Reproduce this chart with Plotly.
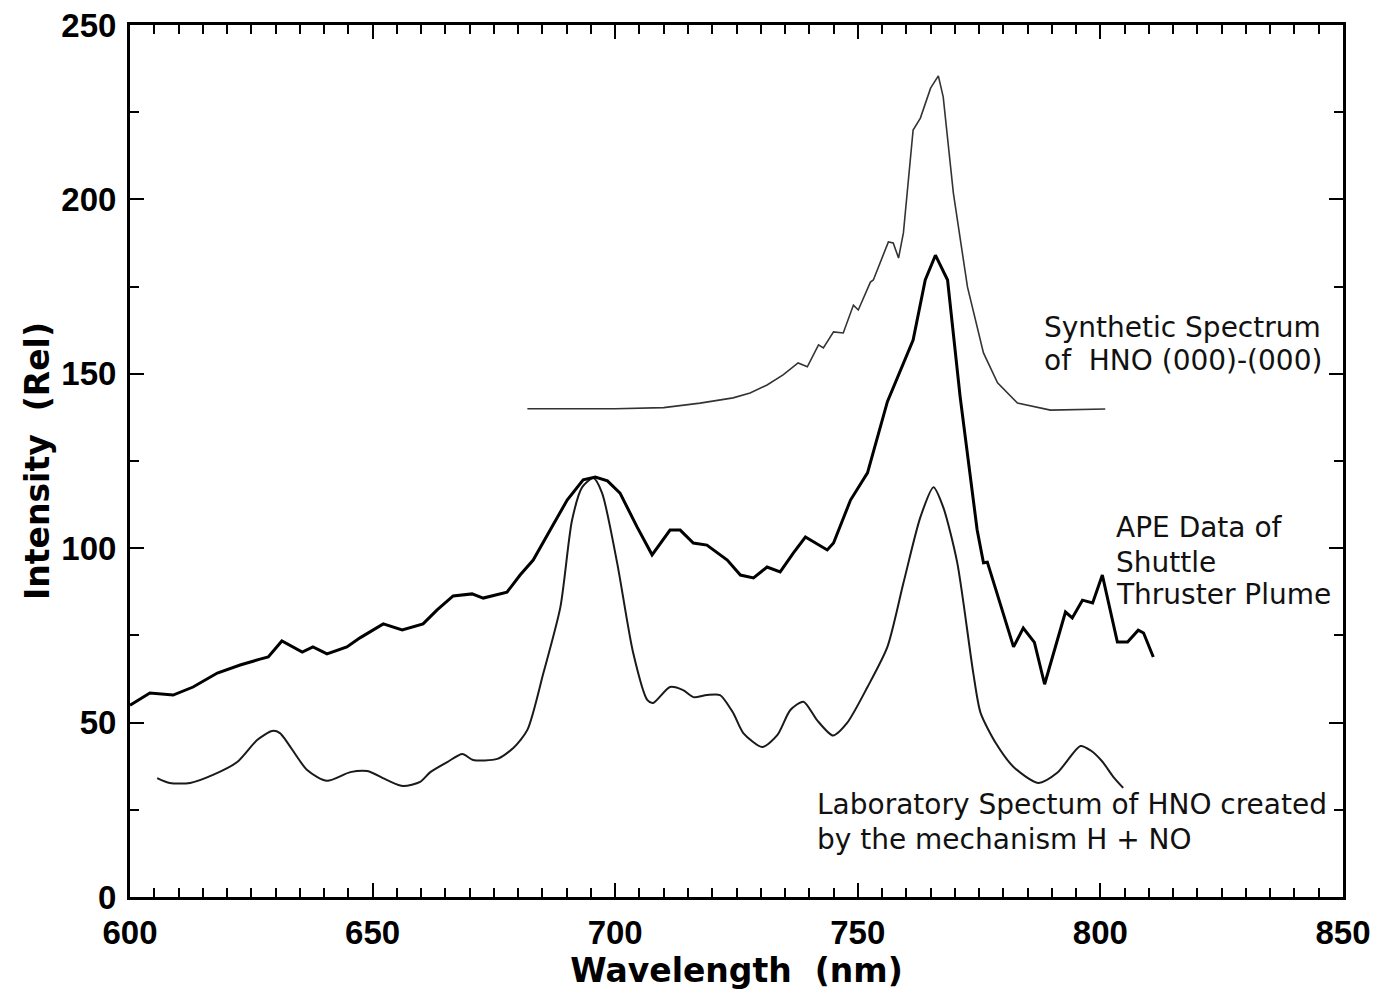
import plotly.graph_objects as go

# APE data of shuttle thruster plume (thick trace)
ape_nm = [600.0, 604.1, 608.9, 613.0, 618.0, 622.7, 626.8, 628.5, 631.3, 635.5, 637.7, 640.6,
          644.7, 647.4, 652.2, 656.1, 660.4, 663.3, 666.6, 670.5, 672.8, 677.7, 680.4, 683.1,
          686.6, 690.1, 693.4, 695.9, 698.4, 701.0, 704.5, 707.6, 711.3, 713.4, 716.1, 718.9,
          723.1, 725.8, 728.5, 731.3, 734.0, 736.7, 739.2, 743.7, 745.0, 748.5, 752.0, 756.1,
          761.4, 763.9, 766.0, 768.5, 771.1, 774.6, 775.9, 776.7, 782.1, 784.1, 786.4, 788.5,
          792.8, 794.2, 796.3, 798.4, 800.4, 803.5, 805.6, 807.8, 808.9, 810.9]
ape_val = [55.0, 58.5, 57.9, 60.2, 64.2, 66.5, 68.2, 68.8, 73.4, 70.2, 71.7, 69.7,
           71.7, 74.3, 78.3, 76.6, 78.3, 82.3, 86.3, 86.9, 85.7, 87.4, 92.3, 96.6,
           105.2, 113.8, 119.6, 120.4, 119.3, 115.8, 106.1, 98.1, 105.2, 105.2, 101.5, 100.9,
           96.6, 92.3, 91.5, 94.6, 93.2, 98.6, 103.2, 99.5, 101.5, 113.8, 121.6, 142.0,
           159.7, 176.9, 184.0, 176.9, 143.3, 105.2, 95.8, 96.0, 71.7, 77.1, 73.0, 61.0,
           81.7, 80.0, 85.1, 84.3, 92.3, 73.1, 73.1, 76.5, 75.7, 68.8]

# Laboratory spectrum of HNO (H + NO)
lab_nm = [605.6, 608.2, 612.4, 617.1, 622.1, 626.2, 629.3, 630.9, 636.5, 640.6, 645.4, 648.9,
          653.0, 656.3, 659.8, 661.9, 665.4, 668.5, 670.7, 675.7, 679.0, 681.9, 685.2, 688.7,
          691.1, 693.2, 695.5, 697.3, 700.4, 703.7, 706.6, 707.8, 711.3, 714.0, 716.1, 718.9,
          721.6, 724.3, 726.4, 730.3, 733.4, 736.1, 738.8, 741.6, 744.9, 747.8, 752.0, 756.1,
          759.4, 762.9, 765.6, 767.6, 770.5, 773.8, 775.3, 778.5, 782.1, 787.2, 791.1, 795.9,
          798.0, 800.3, 802.7, 804.7]
lab_val = [34.1, 32.7, 32.7, 35.0, 38.7, 45.0, 47.6, 47.0, 36.4, 33.3, 35.8, 36.1,
           33.5, 31.8, 33.0, 35.8, 38.7, 41.0, 39.3, 39.6, 42.7, 47.9, 64.2, 83.1,
           108.0, 117.5, 120.1, 115.8, 95.8, 70.0, 56.5, 55.6, 60.2, 59.3, 57.3, 57.9,
           57.9, 52.8, 47.0, 43.0, 46.4, 53.6, 56.0, 50.7, 46.3, 49.9, 60.2, 71.7,
           90.0, 108.9, 117.5, 111.8, 95.8, 64.2, 52.8, 44.0, 37.3, 32.7, 35.6, 43.3,
           42.0, 39.0, 34.4, 31.3]

# Synthetic spectrum of HNO (000)-(000)
syn_nm = [681.9, 700.0, 710.0, 717.5, 724.3, 727.8, 731.3, 734.6, 737.7, 739.6, 741.9, 742.9,
          745.0, 747.0, 749.1, 750.1, 752.6, 753.2, 756.3, 757.3, 758.4, 759.4, 761.4, 762.9,
          765.0, 766.6, 767.6, 769.7, 772.6, 775.9, 778.8, 782.9, 789.7, 801.0]
syn_val = [140.0, 140.0, 140.3, 141.6, 143.1, 144.5, 146.8, 149.7, 153.1, 152.0, 158.3, 157.4,
           162.0, 161.7, 169.7, 168.3, 176.3, 176.9, 187.8, 187.5, 183.2, 190.4, 219.9, 223.3,
           231.9, 235.4, 229.4, 201.8, 174.9, 156.0, 147.4, 141.6, 139.6, 139.9]

TICK_FONT = "Liberation Sans, Arial, sans-serif"
TEXT_FONT = "DejaVu Sans, sans-serif"

fig = go.Figure()
fig.add_trace(go.Scatter(x=syn_nm, y=syn_val, mode="lines",
                         line=dict(color="#333333", width=1.6)))
fig.add_trace(go.Scatter(x=lab_nm, y=lab_val, mode="lines",
                         line=dict(color="#1a1a1a", width=2, shape="spline", smoothing=0.7)))
fig.add_trace(go.Scatter(x=ape_nm, y=ape_val, mode="lines",
                         line=dict(color="black", width=3)))

# labels next to the curves
labels = [
    (788.0, 163.4, "Synthetic Spectrum"),
    (788.0, 153.7, "of  HNO (000)-(000)"),
    (802.7, 105.8, "APE Data of"),
    (802.7, 96.0, "Shuttle"),
    (802.7, 86.6, "Thruster Plume"),
    (741.2, 26.4, "Laboratory Spectum of HNO created"),
    (741.2, 16.6, "by the mechanism H + NO"),
]
for x, y, t in labels:
    fig.add_annotation(x=x, y=y, text=t, showarrow=False, xanchor="left", yanchor="middle",
                       font=dict(family=TEXT_FONT, size=28, color="#111111"))

axis_common = dict(
    showline=True, linecolor="black", linewidth=3, mirror="ticks",
    ticks="inside", ticklen=14, tickwidth=2, tickcolor="black",
    showgrid=False, zeroline=False, ticklabeloverflow="allow",
    tickfont=dict(family=TICK_FONT, size=33, color="black", weight="bold"),
)

fig.update_xaxes(range=[600, 850], tick0=600, dtick=50, automargin="bottom",
                 minor=dict(ticks="inside", ticklen=9, tickwidth=2, dtick=5, tickcolor="black"),
                 ticklabelstandoff=4,
                 title=dict(text="Wavelength  (nm)", standoff=6,
                            font=dict(family=TEXT_FONT, size=33, color="black", weight="bold")),
                 **axis_common)
fig.update_yaxes(range=[0, 250], tick0=0, dtick=50, automargin="left",
                 minor=dict(ticks="inside", ticklen=9, tickwidth=2, dtick=25, tickcolor="black"),
                 ticklabelstandoff=4,
                 title=dict(text="Intensity  (Rel)", standoff=2,
                            font=dict(family=TEXT_FONT, size=33, color="black", weight="bold")),
                 **axis_common)

# page body adds ~8px offset, margins compensate
fig.update_layout(
    width=1381, height=1000,
    margin=dict(l=122, r=46, t=17, b=111),
    paper_bgcolor="white", plot_bgcolor="white",
    showlegend=False,
)

fig.write_html("out.html")
